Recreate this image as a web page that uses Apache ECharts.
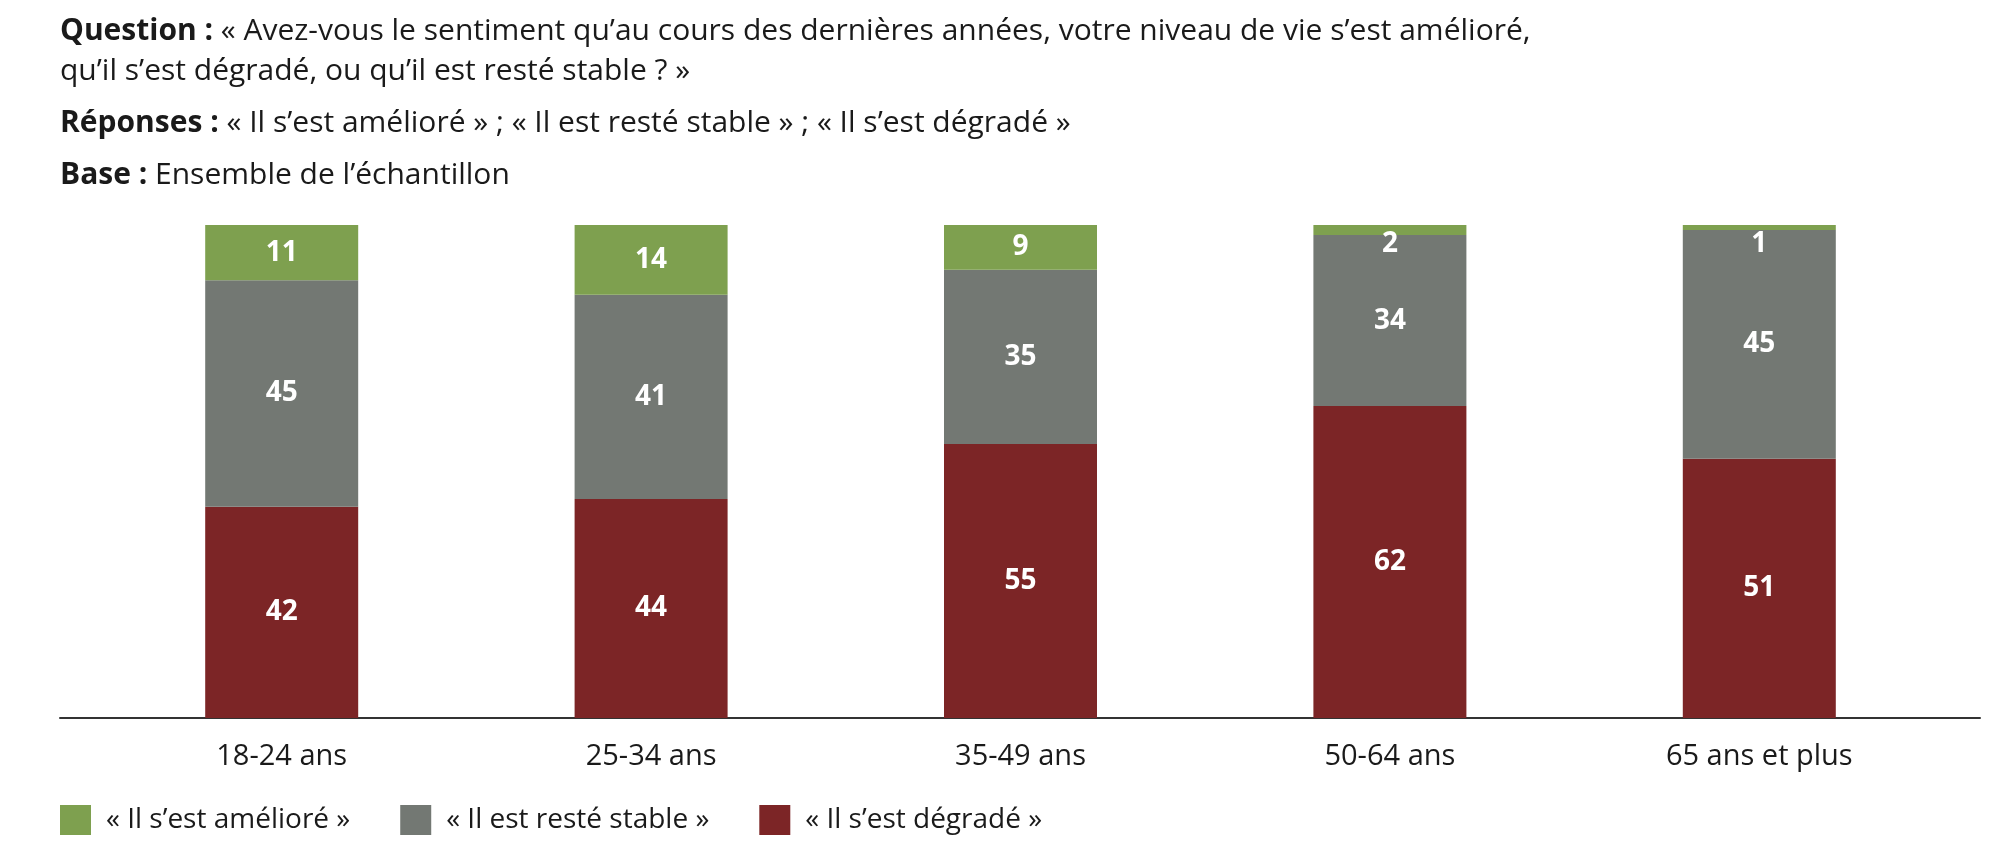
<!DOCTYPE html>
<html>
<head>
<meta charset="utf-8">
<script src="https://cdn.jsdelivr.net/npm/echarts@6/dist/echarts.min.js"></script>
<style>
  html, body { margin: 0; padding: 0; background: #fff; }
  #chart { width: 2010px; height: 852px; }
</style>
</head>
<body>
<div id="chart"></div>
<script>
  var categories = ["18-24 ans", "25-34 ans", "35-49 ans", "50-64 ans", "65 ans et plus"];
  var ameliore = [11, 14, 9, 2, 1];
  var stable = [45, 41, 35, 34, 45];
  var degrade = [42, 44, 55, 62, 51];
  var seriesNames = ["« Il s’est amélioré »", "« Il est resté stable »", "« Il s’est dégradé »"];
  var titleLines = [
    ["Question :", " « Avez-vous le sentiment qu’au cours des dernières années, votre niveau de vie s’est amélioré,"],
    ["", "qu’il s’est dégradé, ou qu’il est resté stable ? »"],
    ["Réponses :", " « Il s’est amélioré » ; « Il est resté stable » ; « Il s’est dégradé »"],
    ["Base :", " Ensemble de l’échantillon"]
  ];

  var FONT = "'Open Sans', sans-serif";
  var TEXT = "#1a1a1a";
  var GREEN = "#7ea04f";
  var GREY = "#737873";
  var RED = "#7c2526";

  // each bar is drawn as its share of the column total (the columns all reach the top)
  function totals() {
    return categories.map(function (c, i) {
      return ameliore[i] + stable[i] + degrade[i];
    });
  }
  var sums = totals();

  function shares(values, smallTop) {
    return values.map(function (v, i) {
      var item = { value: (v / sums[i]) * 100 };
      if (smallTop && v < 5) {
        item.label = { position: "insideTop", distance: 5 };
      }
      return item;
    });
  }

  function barSeries(name, values, color, smallTop) {
    return {
      name: name,
      type: "bar",
      stack: "total",
      barWidth: 153,
      xAxisIndex: 0,
      yAxisIndex: 0,
      itemStyle: { color: color },
      emphasis: { disabled: true },
      label: {
        show: true,
        position: "inside",
        color: "#fff",
        fontFamily: FONT,
        fontWeight: "bold",
        fontSize: 28,
        formatter: function (p) {
          return String(values[p.dataIndex]);
        }
      },
      data: shares(values, smallTop)
    };
  }

  var tops = [16, 56, 108, 160];
  var titles = titleLines.map(function (line, i) {
    return {
      left: 60,
      top: tops[i],
      padding: 0,
      text: (line[0] ? "{b|" + line[0] + "}" : "") + "{r|" + line[1] + "}",
      textStyle: {
        rich: {
          b: { fontFamily: FONT, fontWeight: "bold", fontSize: 30, color: TEXT },
          r: { fontFamily: FONT, fontWeight: "normal", fontSize: 30, color: TEXT }
        }
      }
    };
  });

  var chart = echarts.init(document.getElementById("chart"));
  chart.setOption({
    animation: false,
    backgroundColor: "#fff",
    title: titles,
    legend: {
      left: 60,
      top: 805,
      padding: 0,
      itemWidth: 31,
      itemHeight: 30,
      itemGap: 50,
      icon: "rect",
      data: seriesNames,
      selectedMode: false,
      textStyle: {
        fontFamily: FONT,
        fontSize: 28,
        color: TEXT,
        padding: [0, 0, 0, 10]
      }
    },
    grid: [
      { left: 97, right: 66, top: 225, bottom: 134 },
      { left: 60, right: 30, top: 225, bottom: 134 }
    ],
    xAxis: [
      {
        type: "category",
        gridIndex: 0,
        data: categories,
        axisLine: { show: false },
        axisTick: { show: false },
        axisLabel: {
          margin: 24,
          fontFamily: FONT,
          fontSize: 29,
          color: TEXT
        }
      },
      {
        type: "value",
        gridIndex: 1,
        min: 0,
        max: 1,
        axisLine: { show: true, onZero: false, lineStyle: { color: "#333", width: 2 } },
        axisTick: { show: false },
        axisLabel: { show: false },
        splitLine: { show: false }
      }
    ],
    yAxis: [
      { type: "value", gridIndex: 0, min: 0, max: 100, show: false },
      { type: "value", gridIndex: 1, min: 0, max: 100, show: false }
    ],
    series: [
      barSeries(seriesNames[2], degrade, RED, false),
      barSeries(seriesNames[1], stable, GREY, false),
      barSeries(seriesNames[0], ameliore, GREEN, true)
    ]
  });
</script>
</body>
</html>
